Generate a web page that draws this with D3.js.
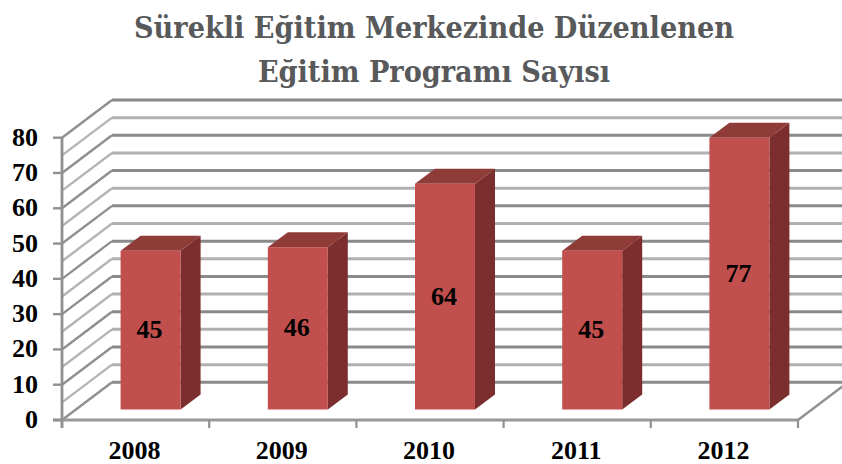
<!DOCTYPE html>
<html><head><meta charset="utf-8">
<script src="https://cdnjs.cloudflare.com/ajax/libs/d3/7.8.5/d3.min.js"></script>
<style>html,body{margin:0;background:#fff}svg{display:block}</style></head>
<body><svg id="c" width="842" height="464"></svg>
<script>
const categories=["2008","2009","2010","2011","2012"];
const values=[45,46,64,45,77];
const yTicks=[0,10,20,30,40,50,60,70,80];
const gridValues=[0,5,10,15,20,25,30,35,40,45,50,55,60,65,70,75,80];
const titleLines=["Sürekli Eğitim Merkezinde Düzenlenen","Eğitim Programı Sayısı"];

const svg=d3.select("#c");
const y=d3.scaleLinear().domain([0,80]).range([420,137.7]);
const x=d3.scaleBand().domain(categories).range([62,798]);
const wallDx=50,wallDy=-37.7,barDepthDx=20,barDepthDy=-15,barFloorDy=-10.5,barW=60;

const defs=svg.append("defs");
defs.append("filter").attr("id","soft").append("feGaussianBlur").attr("stdDeviation",0.55);

svg.selectAll("text.title").data(titleLines).join("text").attr("class","title")
  .attr("x",434).attr("y",(d,i)=>[38,82][i]).attr("text-anchor","middle")
  .attr("font-family","'DejaVu Serif Condensed','DejaVu Serif'").attr("font-weight","bold").attr("font-size",30.2)
  .attr("fill","#58595b").text(d=>d);

const g=svg.append("g").attr("filter","url(#soft)");
const col=d=>d%10===0?"#8a8a8a":"#b0b0b0";
// back wall
g.selectAll("line.back").data(gridValues).join("line").attr("class","back")
  .attr("x1",62+wallDx).attr("x2",842)
  .attr("y1",d=>y(d)+wallDy).attr("y2",d=>y(d)+wallDy)
  .attr("stroke",col).attr("stroke-width",3);
// side wall
g.selectAll("line.side").data(gridValues).join("line").attr("class","side")
  .attr("x1",62).attr("x2",62+wallDx)
  .attr("y1",d=>y(d)).attr("y2",d=>y(d)+wallDy)
  .attr("stroke",d=>d%10===0?"#8f8f8f":"#b4b4b4").attr("stroke-width",2.4);
// floor right edge
g.append("line").attr("x1",798).attr("y1",y(0)).attr("x2",798+wallDx).attr("y2",y(0)+wallDy)
  .attr("stroke","#8f8f8f").attr("stroke-width",2.4);
// axes
g.append("line").attr("x1",62).attr("x2",62).attr("y1",y(80)).attr("y2",y(0)+8).attr("stroke","#909090").attr("stroke-width",2.8);
g.append("line").attr("x1",53).attr("x2",798).attr("y1",y(0)).attr("y2",y(0)).attr("stroke","#989898").attr("stroke-width",2.8);
g.selectAll("line.ty").data(yTicks).join("line").attr("class","ty")
  .attr("x1",53).attr("x2",62).attr("y1",d=>y(d)).attr("y2",d=>y(d)).attr("stroke","#909090").attr("stroke-width",2.4);
g.selectAll("line.tx").data(categories.concat(["end"])).join("line").attr("class","tx")
  .attr("x1",(d,i)=>62+i*x.bandwidth()).attr("x2",(d,i)=>62+i*x.bandwidth())
  .attr("y1",y(0)).attr("y2",y(0)+8).attr("stroke","#909090").attr("stroke-width",2.2);

// bars
const bars=svg.append("g").attr("filter","url(#soft)").selectAll("g").data(categories).join("g");
const xL=c=>x(c)+x.bandwidth()/2-barW/2+15;
const floorY=y(0)+barFloorDy;
const topY=(v)=>floorY-(y(0)-y(v));
bars.append("polygon").attr("fill","#7b2f2e").attr("points",(c,i)=>{
  const r=xL(c)+barW,t=topY(values[i]);
  return [[r,t],[r+barDepthDx,t+barDepthDy],[r+barDepthDx,floorY+barDepthDy],[r,floorY]].join(" ");});
bars.append("polygon").attr("fill","#8f3a38").attr("points",(c,i)=>{
  const l=xL(c),t=topY(values[i]);
  return [[l,t],[l+barW,t],[l+barW+barDepthDx,t+barDepthDy],[l+barDepthDx,t+barDepthDy]].join(" ");});
bars.append("rect").attr("fill","#c0504d").attr("x",xL).attr("width",barW)
  .attr("y",(c,i)=>topY(values[i])).attr("height",(c,i)=>floorY-topY(values[i]));

const serif={"font-family":"'Liberation Serif'","font-weight":"bold","fill":"#000"};
const txt=(sel)=>{for(const k in serif)sel.attr(k,serif[k]);return sel;};
txt(svg.selectAll("text.val").data(categories).join("text").attr("class","val"))
  .attr("x",c=>xL(c)+barW/2-1).attr("y",(c,i)=>(topY(values[i])+floorY)/2+8)
  .attr("text-anchor","middle").attr("font-size",26).text((c,i)=>values[i]);
txt(svg.selectAll("text.yl").data(yTicks).join("text").attr("class","yl"))
  .attr("x",38).attr("y",d=>y(d)+8).attr("text-anchor","end").attr("font-size",26).text(d=>d);
txt(svg.selectAll("text.xl").data(categories).join("text").attr("class","xl"))
  .attr("x",c=>x(c)+x.bandwidth()/2-1).attr("y",459).attr("text-anchor","middle").attr("font-size",26).text(c=>c);
</script></body></html>
